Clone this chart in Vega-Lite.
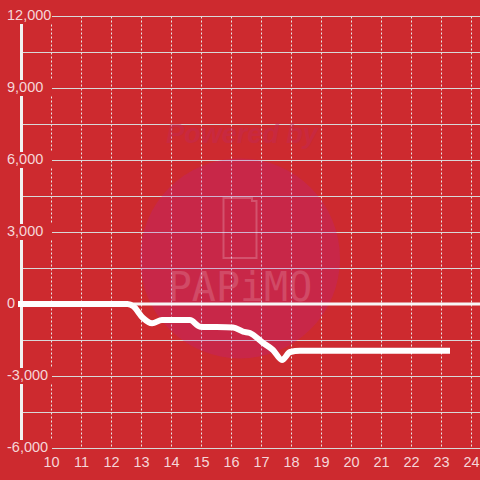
{
  "$schema": "https://vega.github.io/schema/vega-lite/v6.json",
  "autosize": "none",
  "width": 459,
  "height": 432,
  "padding": {"left": 21, "top": 16, "right": 0, "bottom": 32},
  "background": "#cd2a2f",
  "config": {
    "view": {"stroke": null},
    "axisX": {"title": null, "ticks": false, "domain": false, "grid": true, "gridDash": [2, 2], "gridColor": "#e8e8e8", "gridWidth": 1, "labelColor": "#f5d6d8", "labelFont": "Liberation Sans", "labelFontSize": 14.5, "labelPadding": 7, "labelOverlap": false, "labelFlush": false},
    "axisY": {"title": null, "ticks": false, "labels": false, "domain": true, "domainColor": "#f2f2f2", "domainWidth": 3, "grid": true, "gridColor": "#d8d8d8", "gridWidth": 1}
  },
  "datasets": {
    "pnl": [
      {"hour": 9.0, "pnl": 0},
      {"hour": 12.55, "pnl": 0},
      {"hour": 12.75, "pnl": -100},
      {"hour": 13.05, "pnl": -560},
      {"hour": 13.37, "pnl": -800},
      {"hour": 13.7, "pnl": -667},
      {"hour": 14.63, "pnl": -667},
      {"hour": 14.97, "pnl": -945},
      {"hour": 16.07, "pnl": -980},
      {"hour": 16.4, "pnl": -1150},
      {"hour": 16.63, "pnl": -1210},
      {"hour": 17.07, "pnl": -1625},
      {"hour": 17.4, "pnl": -1917},
      {"hour": 17.7, "pnl": -2330},
      {"hour": 17.97, "pnl": -2000},
      {"hour": 18.3, "pnl": -1945},
      {"hour": 19.0, "pnl": -1945},
      {"hour": 20.0, "pnl": -1945},
      {"hour": 21.0, "pnl": -1945},
      {"hour": 22.0, "pnl": -1945},
      {"hour": 23.2, "pnl": -1945}
    ],
    "yticks": [
      {"v": 12000, "lab": "12,000"}, {"v": 9000, "lab": "9,000"}, {"v": 6000, "lab": "6,000"}, {"v": 3000, "lab": "3,000"},
      {"v": 0, "lab": "0"}, {"v": -3000, "lab": "-3,000"}, {"v": -6000, "lab": "-6,000"}
    ]
  },
  "layer": [
    {
      "data": {"values": [{}]},
      "mark": {"type": "point", "shape": "circle", "filled": true, "color": "#b420b0", "opacity": 0.2, "size": 40000, "clip": false},
      "encoding": {
        "x": {"datum": 16.3, "type": "quantitative", "scale": {"domain": [9, 24.3], "nice": false, "zero": false}, "axis": {"values": [10,11,12,13,14,15,16,17,18,19,20,21,22,23,24]}},
        "y": {"datum": 1900, "type": "quantitative", "scale": {"domain": [-6000, 12000], "nice": false, "zero": false}, "axis": {"values": [-6000,-4500,-3000,-1500,0,1500,3000,4500,6000,7500,9000,10500,12000]}}
      }
    },
    {
      "data": {"values": [{}]},
      "mark": {"type": "text", "text": "Powered by", "font": "Liberation Sans", "fontSize": 27, "fontWeight": "bold", "fontStyle": "italic", "color": "#c2285a", "opacity": 0.4, "align": "center", "baseline": "middle"},
      "encoding": {
        "x": {"datum": 16.37, "type": "quantitative", "axis": {"values": [10,11,12,13,14,15,16,17,18,19,20,21,22,23,24]}},
        "y": {"datum": 7040, "type": "quantitative", "axis": {"values": [-6000,-4500,-3000,-1500,0,1500,3000,4500,6000,7500,9000,10500,12000]}}
      }
    },
    {
      "data": {"values": [{}]},
      "mark": {"type": "point", "shape": "M-0.55,-1H0.4V-0.9H0.55V1H-0.55Z", "filled": false, "stroke": "#ffffff", "strokeWidth": 2, "opacity": 0.2, "size": 3600},
      "encoding": {
        "x": {"datum": 16.3, "type": "quantitative", "axis": {"values": [10,11,12,13,14,15,16,17,18,19,20,21,22,23,24]}},
        "y": {"datum": 3170, "type": "quantitative", "axis": {"values": [-6000,-4500,-3000,-1500,0,1500,3000,4500,6000,7500,9000,10500,12000]}}
      }
    },
    {
      "data": {"values": [{}]},
      "mark": {"type": "text", "text": "PAPiMO", "font": "DejaVu Sans Mono", "fontSize": 40, "color": "#ffffff", "opacity": 0.16, "align": "center", "baseline": "middle"},
      "encoding": {
        "x": {"datum": 16.3, "type": "quantitative", "axis": {"values": [10,11,12,13,14,15,16,17,18,19,20,21,22,23,24]}},
        "y": {"datum": 620, "type": "quantitative", "axis": {"values": [-6000,-4500,-3000,-1500,0,1500,3000,4500,6000,7500,9000,10500,12000]}}
      }
    },
    {
      "data": {"values": [{}]},
      "mark": {"type": "rule", "color": "#f7f7f7", "strokeWidth": 3},
      "encoding": {
        "y": {"datum": 0, "type": "quantitative", "axis": {"values": [-6000,-4500,-3000,-1500,0,1500,3000,4500,6000,7500,9000,10500,12000]}}
      }
    },
    {
      "data": {"name": "pnl"},
      "mark": {"type": "line", "color": "#ffffff", "strokeWidth": 6, "interpolate": "monotone", "strokeCap": "square", "clip": false},
      "encoding": {
        "x": {"field": "hour", "type": "quantitative", "axis": {"values": [10,11,12,13,14,15,16,17,18,19,20,21,22,23,24]}},
        "y": {"field": "pnl", "type": "quantitative", "axis": {"values": [-6000,-4500,-3000,-1500,0,1500,3000,4500,6000,7500,9000,10500,12000]}}
      }
    },
    {
      "data": {"name": "yticks"},
      "transform": [{"filter": "datum.v != 0"}],
      "mark": {"type": "tick", "orient": "horizontal", "color": "#cd2a2f", "opacity": 1, "size": 50, "thickness": 16},
      "encoding": {
        "x": {"datum": 9.2, "type": "quantitative", "axis": {"values": [10,11,12,13,14,15,16,17,18,19,20,21,22,23,24]}},
        "y": {"field": "v", "type": "quantitative", "axis": {"values": [-6000,-4500,-3000,-1500,0,1500,3000,4500,6000,7500,9000,10500,12000]}}
      }
    },
    {
      "data": {"name": "yticks"},
      "mark": {"type": "text", "align": "left", "baseline": "middle", "dx": -14, "font": "Liberation Sans", "fontSize": 14.5, "color": "#f5d6d8"},
      "encoding": {
        "x": {"datum": 9, "type": "quantitative", "axis": {"values": [10,11,12,13,14,15,16,17,18,19,20,21,22,23,24]}},
        "y": {"field": "v", "type": "quantitative", "axis": {"values": [-6000,-4500,-3000,-1500,0,1500,3000,4500,6000,7500,9000,10500,12000]}},
        "text": {"field": "lab", "type": "nominal"}
      }
    }
  ]
}
